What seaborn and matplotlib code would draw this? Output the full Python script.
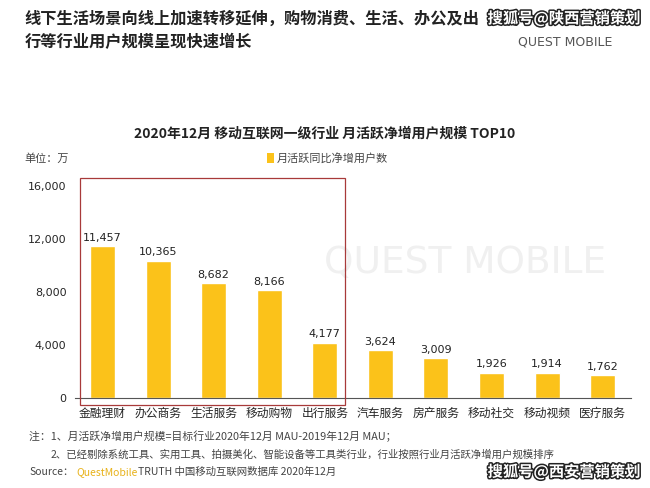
import matplotlib.pyplot as plt
import matplotlib.patheffects as pe
import pandas as pd
import seaborn as sns

# data
industries = ["金融理财", "办公商务", "生活服务", "移动购物", "出行服务",
              "汽车服务", "房产服务", "移动社交", "移动视频", "医疗服务"]
net_users = [11457, 10365, 8682, 8166, 4177, 3624, 3009, 1926, 1914, 1762]
y_ticks = [0, 4000, 8000, 12000, 16000]

df = pd.DataFrame({"行业": industries, "净增用户": net_users})

sns.set_style("white")
plt.rcParams["font.family"] = ["Noto Sans CJK SC", "DejaVu Sans"]

fig = plt.figure(figsize=(6.5, 4.88), dpi=100)
ax = fig.add_axes([0.115, 0.184, 0.855, 0.435])

# faint background watermark
fig.text(0.715, 0.462, "QUEST MOBILE", fontsize=27, color="#f0f0f0",
         ha="center", va="center", zorder=0, family="DejaVu Sans")

sns.barplot(data=df, x="行业", y="净增用户", color="#FBC21A", width=0.45,
            saturation=1, ax=ax, zorder=2)
ax.patch.set_alpha(0)

for i, v in enumerate(net_users):
    ax.text(i, v + 250, f"{v:,}", ha="center", va="bottom", fontsize=8,
            color="#222222", family="DejaVu Sans")

ax.set_ylim(0, 16000)
ax.set_yticks(y_ticks)
ax.set_yticklabels([f"{t:,}" for t in y_ticks], fontsize=8, family="DejaVu Sans")
ax.tick_params(axis="x", labelsize=8.5, length=0, pad=6)
ax.tick_params(axis="y", length=0, pad=6)
ax.set_xlabel("")
ax.set_ylabel("")
for s in ["top", "right", "left"]:
    ax.spines[s].set_visible(False)
ax.spines["bottom"].set_color("#555555")
ax.set_xlim(-0.5, 9.5)

# red box around top 5
box = plt.Rectangle((80 / 650, 1 - 405 / 488), 265 / 650, 227 / 488,
                    transform=fig.transFigure, fill=False, edgecolor="#a83a3a",
                    linewidth=0.9, zorder=5)
fig.add_artist(box)

# headline
fig.text(0.038, 0.962, "线下生活场景向线上加速转移延伸，购物消费、生活、办公及出",
         fontsize=11.7, fontweight="bold", color="#222222", va="center")
fig.text(0.038, 0.914, "行等行业用户规模呈现快速增长",
         fontsize=11.7, fontweight="bold", color="#222222", va="center")
fig.text(0.87, 0.914, "QUEST MOBILE", fontsize=9, color="#555555",
         ha="center", va="center", family="DejaVu Sans")

fig.text(0.5, 0.727, "2020年12月 移动互联网一级行业 月活跃净增用户规模 TOP10",
         fontsize=10, fontweight="bold", color="#222222", ha="center", va="center")
fig.text(0.038, 0.676, "单位：万", fontsize=8, color="#444444", va="center")
fig.add_artist(plt.Rectangle((0.410, 0.665), 0.012, 0.022, transform=fig.transFigure,
                             facecolor="#FBC21A", edgecolor="none"))
fig.text(0.425, 0.676, "月活跃同比净增用户数", fontsize=8, color="#444444", va="center")

# notes and source
fig.text(0.045, 0.105, "注：1、月活跃净增用户规模=目标行业2020年12月 MAU-2019年12月 MAU；",
         fontsize=7.8, color="#444444", va="center")
fig.text(0.078, 0.068, "2、已经剔除系统工具、实用工具、拍摄美化、智能设备等工具类行业，行业按照行业月活跃净增用户规模排序",
         fontsize=7.5, color="#444444", va="center")
fig.text(0.045, 0.033, "Source：", fontsize=7.5, color="#444444", va="center")
fig.text(0.117, 0.033, "QuestMobile", fontsize=7.5, color="#E8B21A", va="center")
fig.text(0.212, 0.033, "TRUTH 中国移动互联网数据库 2020年12月", fontsize=7.5,
         color="#444444", va="center")

# watermarks
stroke = [pe.withStroke(linewidth=2.2, foreground="#222222")]
fig.text(0.985, 0.033, "搜狐号@西安营销策划", fontsize=11, fontweight="bold",
         color="white", ha="right", va="center", path_effects=stroke, zorder=10)
fig.text(0.985, 0.962, "搜狐号@陕西营销策划", fontsize=11, fontweight="bold",
         color="white", ha="right", va="center", path_effects=stroke, zorder=10)

fig.savefig("out.png", dpi=100)
